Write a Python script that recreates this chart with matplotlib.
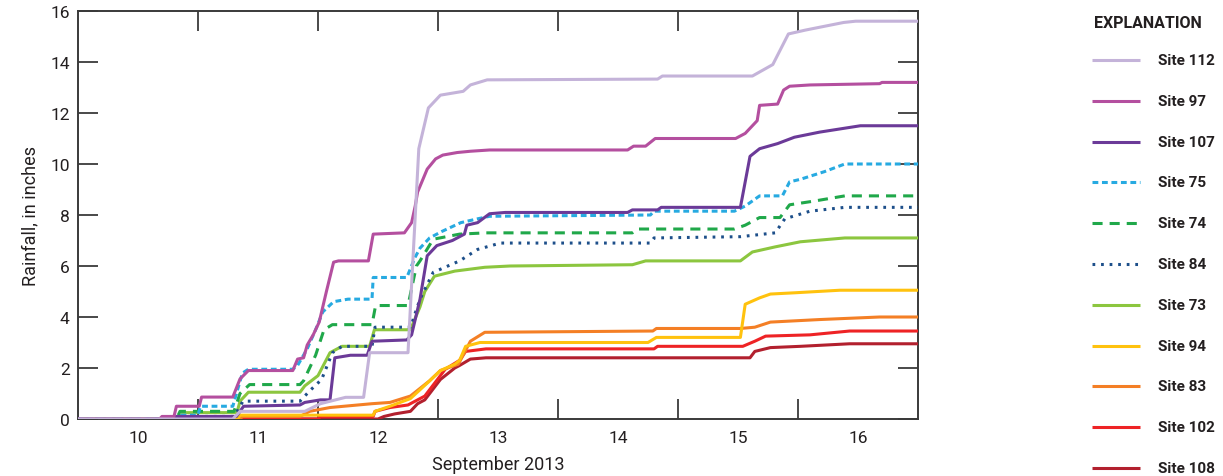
import matplotlib
matplotlib.use("Agg")
import matplotlib.pyplot as plt
from matplotlib.lines import Line2D

plt.rcParams['font.family'] = ['Roboto', 'DejaVu Sans']

# time in days since 10 Sep 2013 00:00, cumulative rainfall in inches
sites = ["Site 112", "Site 97", "Site 107", "Site 75", "Site 74", "Site 84",
         "Site 73", "Site 94", "Site 83", "Site 102", "Site 108"]

t112 = [0, 1.29, 1.35, 1.89, 2.02, 2.23, 2.38, 2.43, 2.75, 2.84, 2.92, 3.02, 3.21, 3.27, 3.41,
        4.83, 4.87, 5.62, 5.79, 5.92, 6.06, 6.38, 6.48, 7.0]
v112 = [0, 0, 0.3, 0.3, 0.6, 0.85, 0.85, 2.6, 2.6, 10.6, 12.2, 12.7, 12.85, 13.1, 13.3,
        13.33, 13.45, 13.45, 13.9, 15.1, 15.25, 15.55, 15.6, 15.6]

t97 = [0, 0.68, 0.70, 0.80, 0.82, 1.01, 1.03, 1.29, 1.35, 1.42, 1.79, 1.83, 1.88, 1.91, 1.96,
       2.01, 2.07, 2.13, 2.17, 2.42, 2.46, 2.72, 2.78, 2.81, 2.83, 2.91, 2.98, 3.04, 3.16,
       3.27, 3.43, 4.58, 4.63, 4.73, 4.81, 5.48, 5.56, 5.62, 5.66, 5.68, 5.83, 5.88, 5.93,
       6.10, 6.68, 6.70, 7.0]
v97 = [0, 0, 0.1, 0.1, 0.5, 0.5, 0.86, 0.86, 1.57, 1.9, 1.9, 2.35, 2.4, 2.9, 3.3,
       3.8, 5.0, 6.15, 6.2, 6.2, 7.25, 7.3, 7.7, 8.35, 8.9, 9.8, 10.2, 10.35, 10.45,
       10.5, 10.55, 10.55, 10.7, 10.7, 11.0, 11.0, 11.2, 11.5, 11.7, 12.3, 12.35, 12.9, 13.05,
       13.1, 13.15, 13.2, 13.2]

t107 = [0, 0.80, 0.82, 1.32, 1.38, 1.85, 1.89, 2.02, 2.10, 2.14, 2.27, 2.41, 2.45, 2.74, 2.78,
        2.85, 2.91, 2.99, 3.12, 3.22, 3.24, 3.33, 3.43, 3.56, 4.58, 4.62, 4.83, 4.86, 5.52,
        5.60, 5.68, 5.83, 5.97, 6.18, 6.52, 7.0]
v107 = [0, 0, 0.1, 0.1, 0.5, 0.55, 0.65, 0.75, 0.75, 2.4, 2.5, 2.5, 3.05, 3.1, 3.3,
        4.7, 6.4, 6.8, 7.0, 7.25, 7.6, 7.7, 8.05, 8.1, 8.1, 8.2, 8.2, 8.3, 8.3,
        10.3, 10.6, 10.8, 11.05, 11.25, 11.5, 11.5]

t75 = [0, 0.80, 0.83, 1.0, 1.02, 1.29, 1.37, 1.42, 1.79, 1.83, 1.91, 1.98, 2.04, 2.13, 2.25,
       2.45, 2.46, 2.74, 2.81, 2.85, 2.93, 3.03, 3.19, 3.33, 3.43, 4.77, 4.80, 5.47, 5.56,
       5.68, 5.87, 5.93, 6.02, 6.22, 6.39, 7.0]
v75 = [0, 0, 0.15, 0.15, 0.5, 0.5, 1.8, 1.95, 1.95, 2.1, 2.75, 3.5, 4.2, 4.6, 4.7,
       4.7, 5.55, 5.55, 6.35, 6.7, 7.1, 7.35, 7.7, 7.85, 7.95, 8.0, 8.15, 8.15, 8.35,
       8.75, 8.75, 9.3, 9.4, 9.7, 10.0, 10.0]

t74 = [0, 0.82, 0.85, 1.3, 1.35, 1.43, 1.85, 1.88, 1.98, 2.05, 2.12, 2.45, 2.48, 2.75, 2.82,
       2.85, 2.96, 3.18, 3.40, 4.62, 4.66, 5.47, 5.56, 5.68, 5.85, 5.93, 6.14, 6.39, 7.0]
v74 = [0, 0, 0.3, 0.3, 1.0, 1.35, 1.35, 1.5, 2.5, 3.5, 3.7, 3.7, 4.45, 4.45, 6.0,
       6.2, 7.05, 7.25, 7.3, 7.3, 7.45, 7.45, 7.6, 7.9, 7.9, 8.4, 8.55, 8.75, 8.75]

t84 = [0, 0.85, 0.87, 1.3, 1.375, 1.85, 1.93, 2.03, 2.12, 2.2, 2.45, 2.475, 2.77, 2.85, 2.96,
       3.18, 3.33, 3.52, 4.77, 4.8, 5.52, 5.81, 5.89, 6.1, 6.39, 7.0]
v84 = [0, 0, 0.1, 0.1, 0.7, 0.7, 1.1, 1.55, 2.6, 2.85, 2.85, 3.6, 3.6, 4.7, 5.75,
       6.2, 6.65, 6.9, 6.9, 7.1, 7.15, 7.3, 7.85, 8.15, 8.3, 8.3]

t73 = [0, 0.85, 0.87, 1.325, 1.35, 1.42, 1.85, 1.89, 2.0, 2.1, 2.2, 2.43, 2.47, 2.77, 2.85,
       2.89, 2.97, 3.14, 3.39, 3.6, 4.62, 4.73, 5.52, 5.62, 5.81, 6.02, 6.39, 7.0]
v73 = [0, 0, 0.25, 0.25, 0.7, 1.05, 1.05, 1.3, 1.7, 2.6, 2.85, 2.85, 3.5, 3.5, 4.4,
       5.0, 5.6, 5.8, 5.95, 6.0, 6.05, 6.2, 6.2, 6.55, 6.75, 6.95, 7.1, 7.1]

t94 = [0, 1.33, 1.35, 2.46, 2.475, 2.6, 2.77, 2.92, 3.02, 3.14, 3.18, 3.23, 3.35, 4.75, 4.82,
       5.52, 5.56, 5.68, 5.77, 5.975, 6.35, 7.0]
v94 = [0, 0, 0.15, 0.15, 0.3, 0.5, 0.8, 1.45, 1.9, 2.15, 2.3, 2.85, 3.0, 3.0, 3.2,
       3.2, 4.5, 4.75, 4.9, 4.95, 5.05, 5.05]

t83 = [0, 1.35, 1.37, 1.85, 1.93, 2.1, 2.45, 2.6, 2.77, 2.93, 3.02, 3.17, 3.27, 3.39, 4.79,
       4.82, 5.52, 5.64, 5.77, 6.18, 6.68, 7.0]
v83 = [0, 0, 0.1, 0.1, 0.3, 0.45, 0.6, 0.65, 0.9, 1.5, 1.9, 2.15, 3.05, 3.4, 3.45,
       3.55, 3.55, 3.6, 3.8, 3.9, 4.0, 4.0]

t102 = [0, 2.0, 2.02, 2.46, 2.475, 2.6, 2.75, 2.89, 3.06, 3.18, 3.23, 3.4, 4.8, 4.83, 5.54,
        5.64, 5.73, 6.1, 6.43, 7.0]
v102 = [0, 0, 0.1, 0.1, 0.3, 0.45, 0.55, 0.9, 1.95, 2.3, 2.65, 2.75, 2.75, 2.85, 2.85,
        3.05, 3.25, 3.3, 3.45, 3.45]

t108 = [0, 2.5, 2.55, 2.64, 2.77, 2.83, 2.89, 3.02, 3.14, 3.18, 3.27, 3.4, 5.6, 5.64, 5.77,
        6.02, 6.43, 7.0]
v108 = [0, 0, 0.1, 0.2, 0.3, 0.6, 0.75, 1.55, 2.0, 2.1, 2.35, 2.4, 2.4, 2.65, 2.8,
        2.85, 2.95, 2.95]

times = [t112, t97, t107, t75, t74, t84, t73, t94, t83, t102, t108]
values = [v112, v97, v107, v75, v74, v84, v73, v94, v83, v102, v108]
day_labels = ["10", "11", "12", "13", "14", "15", "16"]

colors = ["#c4b3d9", "#b44f9f", "#6b3a98", "#27aae1", "#20a84a", "#1d4f8a",
          "#8cc63f", "#ffc20e", "#f47f25", "#ee2325", "#b2202e"]
styles = ["-", "-", "-", (0, (1.9, 1.2)), (0, (3.3, 2.3)), (0, (0.9, 1.9)),
          "-", "-", "-", "-", "-"]

fig = plt.figure(figsize=(12.23, 4.77), dpi=100)
ax = fig.add_axes([78 / 1223, 57 / 477, 840 / 1223, 408 / 477])

lw = 2.2
# draw bottom-listed sites first so upper curves sit on top
for i in reversed(range(len(sites))):
    ax.plot(times[i], values[i], color=colors[i], ls=styles[i], lw=lw,
            solid_capstyle='butt', zorder=3 + (len(sites) - i) * 0.01)

ax.set_xlim(0, 7)
ax.set_ylim(0, 16)

spine_col = "#3a3a3a"
txt_col = "#231f20"
for s in ax.spines.values():
    s.set_color(spine_col)
    s.set_linewidth(1.4)

ax.set_xticks(range(1, 7))
ax.set_xticklabels([])
ax.set_xticks([d + 0.5 for d in range(7)], minor=True)
ax.set_xticklabels(day_labels, minor=True)
ax.tick_params(axis='x', which='major', direction='in', length=14.4, width=1.3,
               color=spine_col, top=True, bottom=True)
ax.tick_params(axis='x', which='minor', length=0, labelsize=12.5, pad=8, labelcolor=txt_col)

ax.set_yticks(range(0, 17, 2))
ax.tick_params(axis='y', direction='in', length=14.4, width=1.3, color=spine_col,
               left=True, right=True, labelsize=12.5, pad=6, labelcolor=txt_col)

ax.set_xlabel("September 2013", fontsize=13, color=txt_col, labelpad=7)
ax.set_ylabel("Rainfall, in inches", fontsize=13, color=txt_col, labelpad=8)

# explanation block
W, H = 1223, 477
fig.text(1094 / W, 1 - 23 / H, "EXPLANATION", fontsize=11.5, fontweight='bold',
         color=txt_col, ha='left', va='center')
for i, name in enumerate(sites):
    y = 1 - (61 + i * 40.8) / H
    fig.add_artist(Line2D([1092 / W, 1140 / W], [y, y], transform=fig.transFigure,
                          color=colors[i], ls=styles[i], lw=lw, solid_capstyle='butt'))
    fig.text(1158 / W, y, name, fontsize=11, fontweight='bold', color=txt_col,
             ha='left', va='center')

fig.savefig("out.png", dpi=100)
